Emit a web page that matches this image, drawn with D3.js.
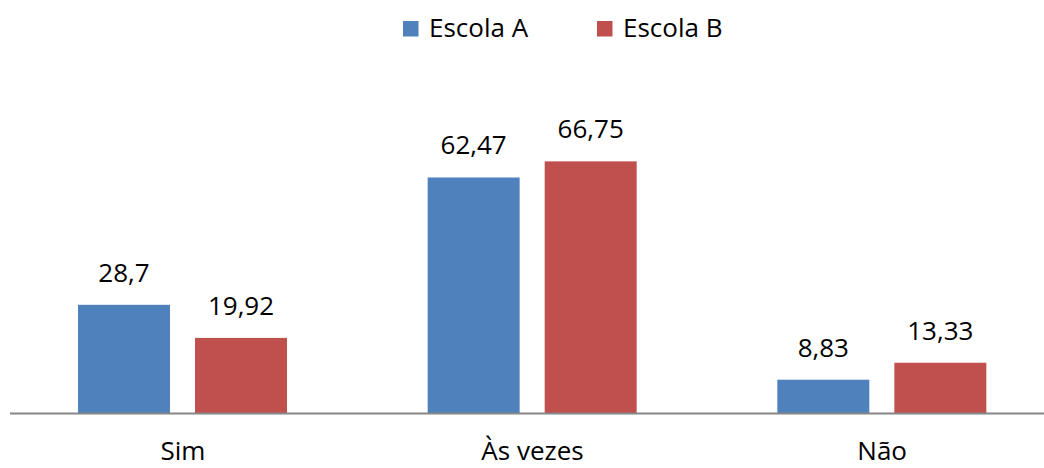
<!DOCTYPE html>
<html>
<head>
<meta charset="utf-8">
<script src="https://cdn.jsdelivr.net/npm/d3@7"></script>
<style>
  html, body { margin: 0; padding: 0; background: #fff; }
  svg { display: block; font-family: "Open Sans", "Noto Sans", sans-serif; }
</style>
</head>
<body>
<svg id="chart" width="1044" height="468"></svg>
<script>
// Respostas por categoria, em percentagem
const categories = ["Sim", "Às vezes", "Não"];
const seriesNames = ["Escola A", "Escola B"];
const escolaA = [28.7, 62.47, 8.83];
const escolaB = [19.92, 66.75, 13.33];
const colors = ["#4F81BD", "#C0504D"];

const fmt = v => String(v).replace(".", ",");

const rows = categories.map((c, i) => ({
  cat: c,
  values: [
    { s: seriesNames[0], v: escolaA[i] },
    { s: seriesNames[1], v: escolaB[i] }
  ]
}));

const svg = d3.select("#chart");

const x0 = d3.scaleBand().domain(categories).range([8, 1057]);
const x1 = d3.scaleBand().domain(seriesNames).range([70, 279]).paddingInner(0.214);
const y = d3.scaleLinear().domain([0, 80]).range([413, 111.4]);
const color = d3.scaleOrdinal().domain(seriesNames).range(colors);

// Barras e rótulos de valor
const groups = svg.append("g")
  .selectAll("g")
  .data(rows)
  .join("g")
  .attr("transform", d => `translate(${x0(d.cat)},0)`);

groups.selectAll("rect")
  .data(d => d.values)
  .join("rect")
  .attr("x", d => x1(d.s))
  .attr("y", d => y(d.v))
  .attr("width", x1.bandwidth())
  .attr("height", d => y(0) - y(d.v))
  .attr("fill", d => color(d.s));

groups.selectAll("text")
  .data(d => d.values)
  .join("text")
  .attr("x", d => x1(d.s) + x1.bandwidth() / 2)
  .attr("y", d => y(d.v) - 23)
  .attr("text-anchor", "middle")
  .attr("font-size", 26)
  .attr("fill", "#000")
  .text(d => fmt(d.v));

// Eixo horizontal
const xAxis = d3.axisBottom(x0).tickSize(0).tickPadding(0);
const axisG = svg.append("g")
  .attr("transform", `translate(0,${y(0)})`)
  .call(xAxis);
axisG.select(".domain")
  .attr("d", "M10,0.5H1044")
  .attr("stroke", "#868686")
  .attr("stroke-width", 2);
axisG.selectAll(".tick text")
  .attr("y", 47)
  .attr("dy", 0)
  .attr("font-size", 26)
  .attr("font-family", "Open Sans, sans-serif")
  .attr("fill", "#000");

// Legenda
const legendX = [403, 597];
const legend = svg.append("g")
  .selectAll("g")
  .data(seriesNames)
  .join("g")
  .attr("transform", (d, i) => `translate(${legendX[i]},21)`);

legend.append("rect")
  .attr("width", 15.5)
  .attr("height", 15.5)
  .attr("fill", d => color(d));

legend.append("text")
  .attr("x", 26)
  .attr("y", 16)
  .attr("font-size", 26)
  .attr("fill", "#000")
  .text(d => d);
</script>
</body>
</html>
